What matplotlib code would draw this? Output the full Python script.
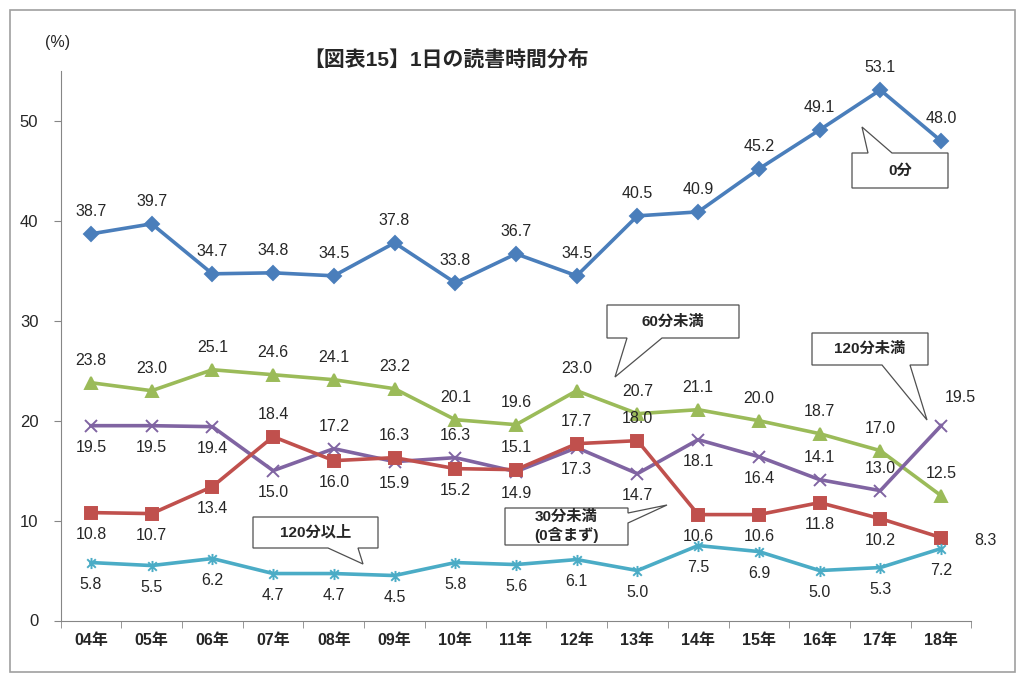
import matplotlib
matplotlib.use("Agg")
import matplotlib.pyplot as plt
from matplotlib.patches import Polygon, Rectangle
from matplotlib.path import Path

plt.rcParams["font.family"] = ["Liberation Sans", "Noto Sans CJK JP", "DejaVu Sans"]

years = ["04年", "05年", "06年", "07年", "08年", "09年", "10年", "11年",
         "12年", "13年", "14年", "15年", "16年", "17年", "18年"]
zero_min = [38.7, 39.7, 34.7, 34.8, 34.5, 37.8, 33.8, 36.7, 34.5, 40.5, 40.9, 45.2, 49.1, 53.1, 48.0]
under_30 = [10.8, 10.7, 13.4, 18.4, 16.0, 16.3, 15.2, 15.1, 17.7, 18.0, 10.6, 10.6, 11.8, 10.2, 8.3]
under_60 = [23.8, 23.0, 25.1, 24.6, 24.1, 23.2, 20.1, 19.6, 23.0, 20.7, 21.1, 20.0, 18.7, 17.0, 12.5]
under_120 = [19.5, 19.5, 19.4, 15.0, 17.2, 15.9, 16.3, 14.9, 17.3, 14.7, 18.1, 16.4, 14.1, 13.0, 19.5]
over_120 = [5.8, 5.5, 6.2, 4.7, 4.7, 4.5, 5.8, 5.6, 6.1, 5.0, 7.5, 6.9, 5.0, 5.3, 7.2]

# label placement per point: a=above, b=below, r=right, ar=above-right
pos_red = ["b", "b", "b", "a", "b", "a", "b", "a", "a", "a", "b", "b", "b", "b", "r"]
pos_purple = ["b", "b", "b", "b", "a", "b", "a", "b", "b", "b", "b", "b", "a", "a", "ar"]

# Excel-style "star" marker: x plus vertical bar
star = Path([(-1, -1), (1, 1), (-1, 1), (1, -1), (0, -1.3), (0, 1.3)],
            [Path.MOVETO, Path.LINETO, Path.MOVETO, Path.LINETO, Path.MOVETO, Path.LINETO])

W, H = 1024, 680
fig = plt.figure(figsize=(W / 100, H / 100), dpi=100)
ax = fig.add_axes([60.6 / W, 1 - 620.5 / H, (971.4 - 60.6) / W, (620.5 - 71) / H])

x = list(range(len(years)))
series = [
    (zero_min, "#4A7EBB", "D", 7, ["a"] * 15),
    (under_60, "#9BBB59", "^", 9, ["a"] * 15),
    (under_120, "#8064A2", "x", 9, pos_purple),
    (under_30, "#C0504D", "s", 8, pos_red),
    (over_120, "#4BACC6", star, 8, ["b"] * 15),
]
offsets = {"a": (0, 16), "b": (0, -16), "r": (32, -2), "ar": (14, 20)}
for vals, col, mk, ms, pos in series:
    ax.plot(x, vals, color=col, lw=2.6, marker=mk, ms=ms, mec=col, mfc=col,
            mew=1.4, zorder=3, clip_on=False)
    for xi, v, p in zip(x, vals, pos):
        ax.annotate(f"{v:.1f}", (xi, v), xytext=offsets[p], textcoords="offset points",
                    ha="center", va="center", fontsize=11.5, color="#262626")

ax.set_xlim(-0.5, 14.5)
ax.set_ylim(0, 55)
ax.set_yticks(range(0, 51, 10))
ax.set_xticks(x)
ax.set_xticklabels(years, fontweight="bold")
ax.set_xticks([i - 0.5 for i in range(16)], minor=True)
ax.tick_params(axis="x", which="major", length=0, pad=9, labelsize=11.5, colors="#262626")
ax.tick_params(axis="x", which="minor", length=5, color="#868686")
ax.tick_params(axis="y", length=5, color="#868686", labelsize=12, labelcolor="#262626", pad=11)
for s in ["top", "right"]:
    ax.spines[s].set_visible(False)
for s in ["left", "bottom"]:
    ax.spines[s].set_color("#868686")

fig.text(446 / W, 1 - 60 / H, "【図表15】1日の読書時間分布", ha="center", va="center",
         fontsize=15, fontweight="bold", color="#262626")
fig.text(58 / W, 1 - 43 / H, "(%)", ha="center", va="center", fontsize=11.5, color="#262626")


def callout(box, tip, edge, b0, b1, text):
    x0, y0, x1, y1 = box
    if edge == "top":
        pts = [(x0, y0), (b0, y0), tip, (b1, y0), (x1, y0), (x1, y1), (x0, y1)]
    elif edge == "bottom":
        pts = [(x0, y0), (x1, y0), (x1, y1), (b1, y1), tip, (b0, y1), (x0, y1)]
    else:
        pts = [(x0, y0), (x1, y0), (x1, b0), tip, (x1, b1), (x1, y1), (x0, y1)]
    pts = [(px / W, 1 - py / H) for px, py in pts]
    fig.patches.append(Polygon(pts, closed=True, transform=fig.transFigure, fc="white",
                               ec="#505050", lw=0.9, zorder=5))
    fig.text((x0 + x1) / 2 / W, 1 - (y0 + y1) / 2 / H, text, ha="center", va="center",
             fontsize=11, fontweight="bold", color="#262626", linespacing=1.2, zorder=6)


callout((852, 153, 948, 188), (862, 127), "top", 868, 892, "0分")
callout((607, 305, 739, 338), (615, 377), "bottom", 627, 662, "60分未満")
callout((812, 333, 928, 365), (927, 420), "bottom", 882, 910, "120分未満")
callout((505, 508, 628, 545), (667, 505), "right", 513, 523, "30分未満\n(0含まず)")
callout((253, 517, 378, 548), (363, 564), "bottom", 328, 358, "120分以上")

fig.patches.append(Rectangle((10 / W, 1 - 672 / H), 1005 / W, 662 / H, transform=fig.transFigure,
                             fill=False, ec="#A0A0A0", lw=1.2))

fig.savefig("out.png", dpi=100, facecolor="white")
